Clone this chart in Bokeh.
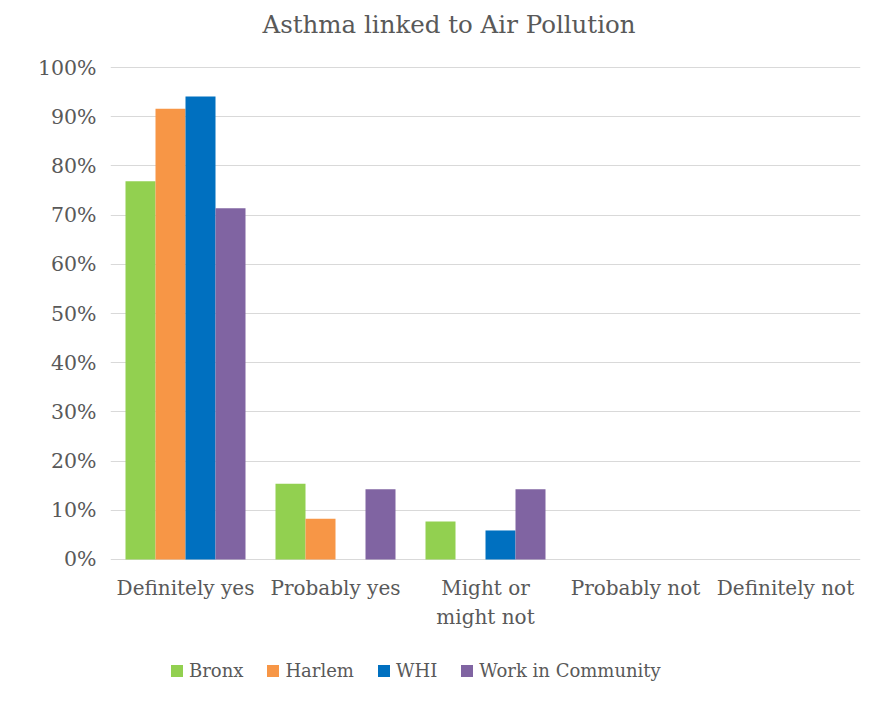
from bokeh.plotting import figure
from bokeh.models import ColumnDataSource, FactorRange, NumeralTickFormatter, Legend, LegendItem, FixedTicker, Label, Range1d
from bokeh.core.properties import value
from bokeh.transform import dodge
from bokeh.embed import file_html
from bokeh.resources import INLINE

categories = ["Definitely yes", "Probably yes", "Might or\nmight not", "Probably not", "Definitely not"]
bronx = [0.769, 0.154, 0.077, 0.0, 0.0]
harlem = [0.916, 0.083, 0.0, 0.0, 0.0]
whi = [0.941, 0.0, 0.059, 0.0, 0.0]
work_in_community = [0.714, 0.143, 0.143, 0.0, 0.0]
series_names = ["Bronx", "Harlem", "WHI", "Work in Community"]
series_colors = ["#92D050", "#F79646", "#0070C0", "#8064A2"]
y_ticks = [0, 0.1, 0.2, 0.3, 0.4, 0.5, 0.6, 0.7, 0.8, 0.9, 1.0]
title_text = "Asthma linked to Air Pollution"

FONT = "DejaVu Serif"
TXT = "#595959"

src = ColumnDataSource(dict(cat=categories, Bronx=bronx, Harlem=harlem, WHI=whi, WIC=work_in_community))

# frame spans the full height; the value axis covers 0..1 between y=67 and y=559 px
p = figure(x_range=FactorRange(*categories, range_padding=0), y_range=Range1d(-0.2866, 1.1362),
           width=870, height=700, output_backend="svg", toolbar_location=None,
           x_axis_location=None,
           min_border_left=110, min_border_right=10, min_border_top=0, min_border_bottom=0)

fields = ["Bronx", "Harlem", "WHI", "WIC"]
offsets = [-0.3, -0.1, 0.1, 0.3]
renderers = []
for f, off, c in zip(fields, offsets, series_colors):
    r = p.vbar(x=dodge("cat", off, range=p.x_range), top=f, width=0.2, source=src,
               fill_color=c, line_color=None)
    renderers.append(r)

# category labels under the value axis
p.text(x="cat", y=-0.033, text="cat", source=src, text_align="center", text_baseline="top",
       text_font=value(FONT), text_font_size="20px", text_color=TXT, text_line_height=1.2)

p.yaxis.ticker = FixedTicker(ticks=y_ticks)
p.yaxis.formatter = NumeralTickFormatter(format="0%")
ax = p.yaxis[0]
ax.major_label_text_font = FONT
ax.major_label_text_font_size = "20.5px"
ax.major_label_text_color = TXT
ax.major_tick_line_color = None
ax.minor_tick_line_color = None
ax.axis_line_color = None
ax.major_label_standoff = 8
p.xgrid.grid_line_color = None
p.ygrid.ticker = FixedTicker(ticks=y_ticks)
p.ygrid.grid_line_color = "#d9d9d9"
p.outline_line_color = None

p.add_layout(Label(x=338.5, y=676, x_units="screen", y_units="screen", text=title_text,
                   text_align="center", text_baseline="middle", text_font=FONT,
                   text_font_size="24.5px", text_color=TXT))

legend = Legend(items=[LegendItem(label=n, renderers=[r]) for n, r in zip(series_names, renderers)],
                orientation="horizontal", location=(59, 19), label_text_font=FONT,
                label_text_font_size="18px", label_text_color=TXT, glyph_width=15, glyph_height=15,
                spacing=22, label_standoff=5, border_line_color=None, background_fill_alpha=0,
                margin=0, padding=4)
p.add_layout(legend, "center")

open("out.html", "w").write(file_html(p, INLINE))
